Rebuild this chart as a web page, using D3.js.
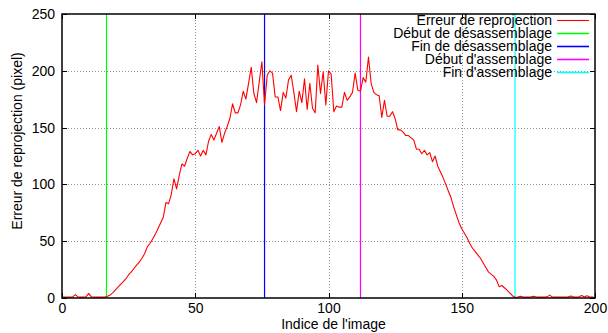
<!DOCTYPE html>
<html><head><meta charset="utf-8">
<script src="https://cdn.jsdelivr.net/npm/d3@7"></script>
<style>
html,body{margin:0;padding:0;background:#fff;}
text{font-family:"Liberation Sans",Arial,sans-serif;font-size:14px;fill:#000;}
</style></head>
<body><svg id="c" width="608" height="333"></svg>
<script>
// Reprojection error per image index (index = position in array)
const errors = [
 0.8,0.8,0.8,0.8,1,3,1,0.8,0.8,1, 4,1,0.8,0.8,0.8,0.8,0.8,1.5,2.5,4.5,
 7,9.5,12,14.5,17,20.5,23,26,29,31.5, 35,39,45,48,52,56,61,66,71,84,
 83,91,105,96,108,118,116,123,129,126, 127,130,125,130,126,138,144,139,145,151,
 137,145,151,158,171,163,163,170,182,175, 189,203,180,172,190,208,170,196,200,198,
 177,177,165,181,176,192,196,181,164,182, 172,193,166,189,167,163,205,180,199,170,
 200,197,164,169,168,168,181,174,177,181, 198,183,182,194,190,212,189,181,179,178,
 159,174,160,160,164,158,148,148,146,143, 143,141,139,131,131,127,130,126,128,120,
 125,116,111,106,100,94,88,80,73,66, 61,57,53,48,44,41,38,35,31,27,
 23,21,19,16,10,11,9,7,4.5,2, 0.5,0.8,1.5,0.8,0.8,0.8,1,1.5,0.8,0.8,
 0.8,0.8,1,2.5,0.8,0.8,0.8,0.8,0.8,0.8, 1,1.8,0.8,0.8,1,2.2,0.8,2,0.8,0.8,
 0.5
];
const markerNames = ["Début de désassemblage","Fin de désassemblage","Début d'assemblage","Fin d'assemblage"];
const markerIndex = [16.7, 76, 112, 170];
const markerColors = ["#00ff00","#0000ff","#ff00ff","#00ffff"];
const seriesName = "Erreur de reprojection";
const seriesColor = "#ff0000";
const xTicks = [0,50,100,150,200];
const yTicks = [0,50,100,150,200,250];
const xTitle = "Indice de l'image";
const yTitle = "Erreur de reprojection (pixel)";

const svg = d3.select("#c");
const L=62, R=595, T=14, B=298;
const x = d3.scaleLinear().domain([0,200]).range([L,R]);
const y = d3.scaleLinear().domain([0,250]).range([B,T]);

// grid
const grid = svg.append("g").attr("stroke","#909090").attr("stroke-width",1).attr("stroke-dasharray","1,2");
grid.selectAll("line.gx").data(xTicks.filter(d=>d>0&&d<200)).enter().append("line")
  .attr("x1",d=>Math.round(x(d))+0.5).attr("x2",d=>Math.round(x(d))+0.5).attr("y1",T).attr("y2",B);
grid.selectAll("line.gy").data(yTicks.filter(d=>d>0&&d<250)).enter().append("line")
  .attr("y1",d=>Math.round(y(d))+0.5).attr("y2",d=>Math.round(y(d))+0.5).attr("x1",L).attr("x2",R);

// axes
const xAxis = d3.axisBottom(x).tickValues(xTicks).tickSize(0).tickPadding(5);
const gx = svg.append("g").attr("transform",`translate(0,${B})`).call(xAxis);
gx.select(".domain").remove();
gx.selectAll("text").attr("font-size",14).attr("font-family","Liberation Sans, Arial, sans-serif").attr("fill","#000");
const yAxis = d3.axisLeft(y).tickValues(yTicks).tickSize(0).tickPadding(7);
const gy = svg.append("g").attr("transform",`translate(${L},0)`).call(yAxis);
gy.select(".domain").remove();
gy.selectAll("text").attr("font-size",14).attr("font-family","Liberation Sans, Arial, sans-serif").attr("fill","#000");

// inward ticks on all sides
const tk = svg.append("g").attr("stroke","#000").attr("stroke-width",1);
xTicks.forEach(d=>{
  const px=Math.round(x(d))+0.5;
  tk.append("line").attr("x1",px).attr("x2",px).attr("y1",B).attr("y2",B-5);
  tk.append("line").attr("x1",px).attr("x2",px).attr("y1",T).attr("y2",T+5);
});
yTicks.forEach(d=>{
  const py=Math.round(y(d))+0.5;
  tk.append("line").attr("y1",py).attr("y2",py).attr("x1",L).attr("x2",L+5);
  tk.append("line").attr("y1",py).attr("y2",py).attr("x1",R).attr("x2",R-5);
});

// marker vertical lines
svg.append("g").selectAll("line").data(markerIndex).enter().append("line")
  .attr("x1",d=>x(d)).attr("x2",d=>x(d)).attr("y1",T).attr("y2",B)
  .attr("stroke",(d,i)=>markerColors[i]).attr("stroke-width",1.2);

// data line
const line = d3.line().x((d,i)=>x(i)).y(d=>y(d));
svg.append("path").datum(errors).attr("d",line).attr("fill","none")
  .attr("stroke",seriesColor).attr("stroke-width",1.1).attr("stroke-linejoin","round");

// frame
svg.append("rect").attr("x",L).attr("y",T).attr("width",R-L).attr("height",B-T)
  .attr("fill","none").attr("stroke","#000").attr("stroke-width",1.5);

// titles
svg.append("text").attr("x",(L+R)/2+5).attr("y",329).attr("text-anchor","middle").text(xTitle);
svg.append("text").attr("transform","translate(22,141) rotate(-90)").attr("text-anchor","middle").text(yTitle);

// legend
const legNames=[seriesName].concat(markerNames);
const legColors=[seriesColor].concat(markerColors);
const lg = svg.append("g");
legNames.forEach((n,i)=>{
  const by = 25 + i*13;
  lg.append("text").attr("x",552).attr("y",by).attr("text-anchor","end").text(n);
  lg.append("line").attr("x1",557).attr("x2",589).attr("y1",by-4.5).attr("y2",by-4.5)
    .attr("stroke",legColors[i]).attr("stroke-width",i===0?1.1:1.6);
});
</script></body></html>
